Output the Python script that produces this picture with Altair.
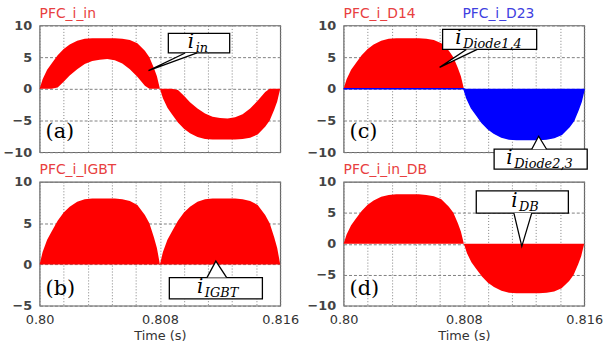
import altair as alt
import pandas as pd

# ---------------- values ----------------
# one half mains cycle, time in ms after the start of the half cycle
t_ms = [0, 0.2, 0.5, 0.8, 1.2, 1.6, 2.0, 2.5, 3.0, 3.5, 4.0, 4.5, 5.0, 5.5, 6.0, 6.5, 7.0, 7.3, 7.6, 7.8, 8.0]
# upper envelope of the switched current (A)
env_upper = [0, 1.5, 3.0, 4.0, 5.3, 6.3, 7.0, 7.6, 7.9, 8.0, 8.0, 8.0, 8.0, 7.9, 7.7, 7.2, 6.0, 5.0, 3.3, 2.0, 0]
# lower envelope of the input current ripple band (A)
env_lower_in = [0, 0, 0, 0, 0.2, 1.1, 2.1, 3.1, 3.9, 4.4, 4.6, 4.7, 4.5, 4.0, 3.1, 1.9, 0.5, 0, 0, 0, 0]
t_start = 0.800
half_cycle = 0.008

x_grid_values = [0.8, 0.8016, 0.8032, 0.8048, 0.8064, 0.808, 0.8096, 0.8112, 0.8128, 0.8144, 0.816]
x_label_values = [0.8, 0.808, 0.816]
x_label_texts = ["0.80", "0.808", "0.816"]
y_ticks_full = [-10, -5, 0, 5, 10]
y_ticks_igbt = [-5, 0, 5, 10]

titles = {
    "a": [("PFC_i_in", "#e84040")],
    "b": [("PFC_i_IGBT", "#e84040")],
    "c": [("PFC_i_D14", "#e84040"), ("PFC_i_D23", "#4040e0")],
    "d": [("PFC_i_in_DB", "#e84040")],
}
letters = {"a": "(a)", "b": "(b)", "c": "(c)", "d": "(d)"}

# callouts: box (t1, t2, v_top, v_bottom), tip (t, v), base points on box edge (t1, t2)
callouts = {
    "a": [dict(box=(0.80856, 0.81264, 8.76, 5.66), tip=(0.80724, 2.87), base=(0.80968, 0.81047), sub="in")],
    "b": [dict(box=(0.808626, 0.814815, -1.60, -4.18), tip=(0.81172, 0.40), base=(0.81113, 0.81244), sub="IGBT")],
    "c": [dict(box=(0.806584, 0.812840, 9.37, 6.22), tip=(0.806387, 3.39), base=(0.808165, 0.808889), sub="Diode1,4"),
          dict(box=(0.81001, 0.8162, -9.53, -12.68), tip=(0.81297, -7.48), base=(0.81251, 0.81350), sub="Diode2,3")],
    "d": [dict(box=(0.808823, 0.814947, 8.54, 4.96), tip=(0.811852, -0.41), base=(0.811325, 0.812510), sub="DB")],
}

# ---------------- table ----------------
rows = []
for half, sign in ((0, 1), (1, -1)):
    for ms, up, lo in zip(t_ms, env_upper, env_lower_in):
        rows.append({
            "t": round(t_start + half * half_cycle + ms / 1000.0, 7),
            "in_hi": sign * up, "in_lo": sign * lo,
            "igbt": up,
            "d14": up if half == 0 else 0.0,
            "d23": 0.0 if half == 0 else -up,
            "db": sign * up,
            "zero": 0.0,
        })
df = pd.DataFrame(rows)

FONT = "DejaVu Sans"
W = 243
H1 = 128
H2 = 125
RED = "#ff0000"
BLUE = "#0000ff"

label_expr = " : ".join(
    f"datum.value == {v} ? '{s}'" for v, s in zip(x_label_values, x_label_texts)
) + " : ''"


def X(field, bottom):
    ax = dict(values=x_grid_values, grid=True, gridDash=[1, 2], gridColor="#808080", gridWidth=1,
              ticks=False, domain=False, labels=bottom, title="", labelOverlap=False)
    if bottom:
        ax.update(labelExpr=label_expr, labelFont=FONT, labelFontSize=13, labelColor="#333333",
                  labelPadding=8, labelFlush=False, title="Time (s)", titleFont=FONT,
                  titleFontSize=13, titleFontWeight="normal", titleColor="#333333", titlePadding=3)
    return alt.X(f"{field}:Q", scale=alt.Scale(domain=[0.8, 0.816], nice=False, zero=False),
                 axis=alt.Axis(**ax))


def Y(field, domain, ticks):
    return alt.Y(f"{field}:Q", scale=alt.Scale(domain=domain, nice=False, zero=False),
                 axis=alt.Axis(values=ticks, grid=True, gridDash=[3, 2], gridColor="#808080",
                               ticks=False, domain=False, labelFont=FONT, labelFontSize=13,
                               labelFontWeight="bold", labelColor="#444444", labelPadding=8,
                               title=""))


def tri_area(pts):
    """vertical extent of the triangle at each vertex x"""
    edges = [(pts[0], pts[1]), (pts[1], pts[2]), (pts[2], pts[0])]
    out = []
    for (px, _) in sorted(pts):
        ys = []
        for (ax_, ay), (bx, by) in edges:
            lo, hi = min(ax_, bx), max(ax_, bx)
            if lo - 1e-12 <= px <= hi + 1e-12:
                if abs(bx - ax_) < 1e-12:
                    ys += [ay, by]
                else:
                    ys.append(ay + (by - ay) * (px - ax_) / (bx - ax_))
        out.append({"x": px, "y": max(ys), "y2": min(ys)})
    return pd.DataFrame(out)


def callout_layers(c, bottom, domain, ticks):
    x1, x2, v1, v2 = c["box"]
    tx, tv = c["tip"]
    b1, b2 = c["base"]
    bv = v2 if tv < v2 else v1
    layers = []
    box = pd.DataFrame([{"x": x1, "x2": x2, "y": v1, "y2": v2}])
    layers.append(alt.Chart(box).mark_rect(fill="white", stroke="black", strokeWidth=1.3).encode(
        x=X("x", bottom), x2="x2:Q", y=Y("y", domain, ticks), y2="y2:Q"))
    tri = tri_area([(b1, bv), (tx, tv), (b2, bv)])
    layers.append(alt.Chart(tri).mark_area(fill="white", opacity=1).encode(
        x=X("x", bottom), y=Y("y", domain, ticks), y2="y2:Q"))
    poly = pd.DataFrame([{"x": b1, "y": bv, "o": 0}, {"x": tx, "y": tv, "o": 1}, {"x": b2, "y": bv, "o": 2}])
    layers.append(alt.Chart(poly).mark_line(color="black", strokeWidth=1.3).encode(
        x=X("x", bottom), y=Y("y", domain, ticks), order="o:Q"))
    cx = (x1 + x2) / 2
    cy = (v1 + v2) / 2
    wsub = 0.6 * 13 * len(c["sub"])
    start = -(7 + wsub) / 2
    tdf = pd.DataFrame([{"x": cx, "y": cy, "m": "i", "s": c["sub"]}])
    layers.append(alt.Chart(tdf).mark_text(font="DejaVu Serif", fontStyle="italic", fontSize=20,
                                           align="left", baseline="alphabetic", dx=start, dy=5,
                                           color="black").encode(
        x=X("x", bottom), y=Y("y", domain, ticks), text="m:N"))
    layers.append(alt.Chart(tdf).mark_text(font="DejaVu Serif", fontStyle="italic", fontSize=13,
                                           align="left", baseline="alphabetic", dx=start + 8, dy=9,
                                           color="black").encode(
        x=X("x", bottom), y=Y("y", domain, ticks), text="s:N"))
    return layers


def deco_layers(key):
    layers = []
    xs = [0, 120]
    for (txt, col), xp in zip(titles[key], xs):
        layers.append(alt.Chart(pd.DataFrame({"lab": [txt]})).mark_text(
            font=FONT, fontSize=14, color=col, align="left", baseline="alphabetic").encode(
            x=alt.value(xp), y=alt.value(-8), text="lab:N"))
    layers.append(alt.Chart(pd.DataFrame({"lab": [letters[key]]})).mark_text(
        font="DejaVu Serif", fontSize=21, color="black", align="left", baseline="alphabetic").encode(
        x=alt.value(6), y=alt.value(114), text="lab:N"))
    return layers


# panel (a)
dom_a = [-10, 10]
pa = alt.layer(
    alt.Chart(df).mark_area(color=RED, opacity=1, interpolate="linear").encode(
        x=X("t", False), y=Y("in_hi", dom_a, y_ticks_full), y2="in_lo:Q"),
    *[l for c in callouts["a"] for l in callout_layers(c, False, dom_a, y_ticks_full)],
    *deco_layers("a"),
).properties(width=W, height=H1)

# panel (b)
dom_b = [-5, 10]
pb = alt.layer(
    alt.Chart(df).mark_area(color=RED, opacity=1).encode(
        x=X("t", True), y=Y("igbt", dom_b, y_ticks_igbt), y2="zero:Q"),
    *[l for c in callouts["b"] for l in callout_layers(c, True, dom_b, y_ticks_igbt)],
    *deco_layers("b"),
).properties(width=W, height=H2)

# panel (c)
pc = alt.layer(
    alt.Chart(df).mark_area(color=RED, opacity=1).encode(
        x=X("t", False), y=Y("d14", dom_a, y_ticks_full), y2="zero:Q"),
    alt.Chart(df).mark_area(color=BLUE, opacity=1).encode(
        x=X("t", False), y=Y("d23", dom_a, y_ticks_full), y2="zero:Q"),
    alt.Chart(df).mark_line(color=BLUE, strokeWidth=1.5).encode(
        x=X("t", False), y=Y("d23", dom_a, y_ticks_full)),
    *[l for c in callouts["c"] for l in callout_layers(c, False, dom_a, y_ticks_full)],
    *deco_layers("c"),
).properties(width=W, height=H1)

# panel (d)
pd_ = alt.layer(
    alt.Chart(df).mark_area(color=RED, opacity=1).encode(
        x=X("t", True), y=Y("db", dom_a, y_ticks_full), y2="zero:Q"),
    *[l for c in callouts["d"] for l in callout_layers(c, True, dom_a, y_ticks_full)],
    *deco_layers("d"),
).properties(width=W, height=H2)

chart = alt.concat(
    pa, pc, pb, pd_, columns=2,
    spacing=alt.RowColnumber(row=30, column=64), bounds="flush",
).properties(
    padding={"left": 2, "top": 4, "right": 0, "bottom": 0},
    background="white",
).configure_view(stroke="#666666", strokeWidth=1.2)

chart.save("out.html", embed_options={"renderer": "svg", "actions": False})
